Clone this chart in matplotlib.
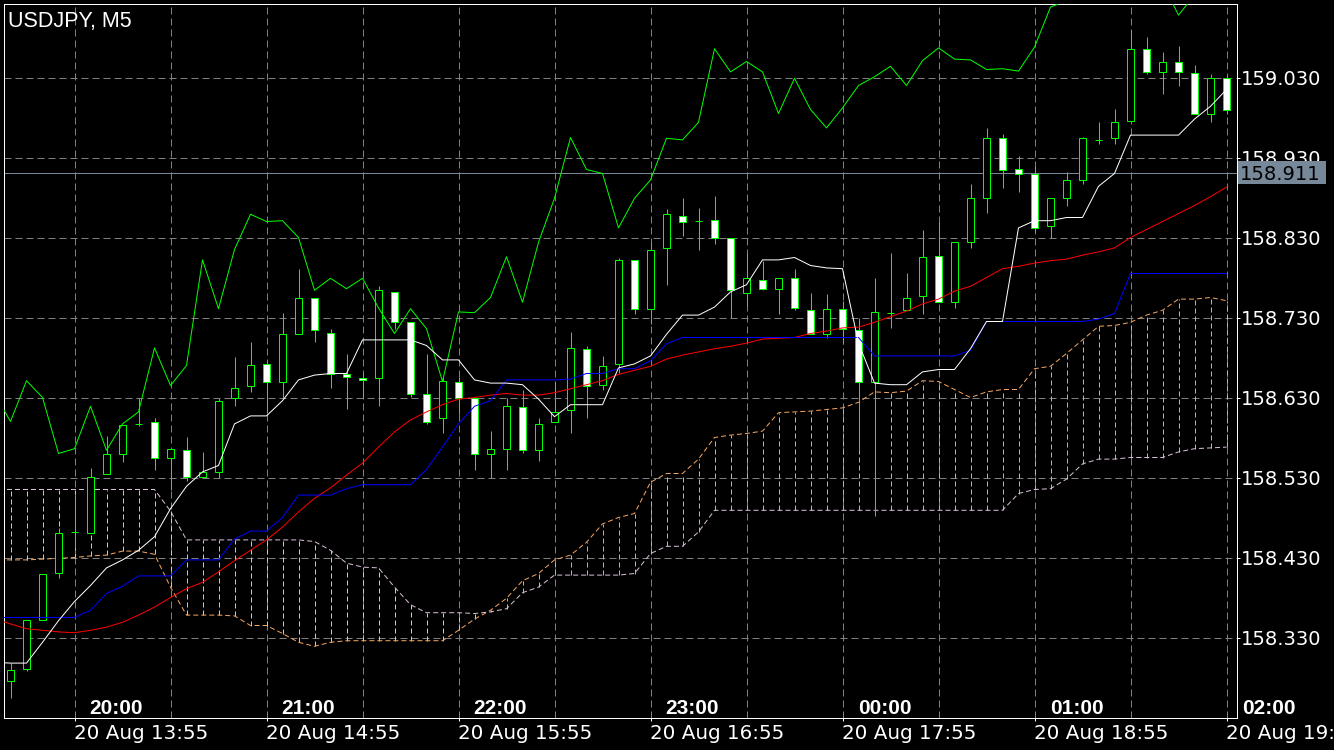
import numpy as np
import matplotlib
matplotlib.use("Agg")
import matplotlib.pyplot as plt
from matplotlib.transforms import blended_transform_factory
from matplotlib.patches import Rectangle

# ---------------- data (USDJPY M5) ----------------
symbol_title = "USDJPY, M5"
bid_price = 158.911

opens = [158.276, 158.291, 158.352, 158.411, 158.462, 158.461, 158.534, 158.560, 158.597, 158.600,
         158.554, 158.565, 158.531, 158.537, 158.629, 158.644, 158.672, 158.649, 158.710, 158.754,
         158.711, 158.660, 158.655, 158.655, 158.762, 158.724, 158.635, 158.605, 158.650, 158.630,
         158.560, 158.566, 158.618, 158.565, 158.599, 158.615, 158.691, 158.646, 158.672, 158.802,
         158.741, 158.817, 158.857, 158.851, 158.852, 158.830, 158.761, 158.777, 158.766, 158.780,
         158.740, 158.709, 158.741, 158.715, 158.649, 158.736, 158.739, 158.757, 158.807, 158.749,
         158.825, 158.879, 158.954, 158.916, 158.909, 158.844, 158.879, 158.902, 158.952, 158.954,
         158.976, 159.066, 159.037, 159.049, 159.036, 158.985, 159.029]
highs = [158.298, 158.352, 158.410, 158.467, 158.507, 158.542, 158.582, 158.596, 158.629, 158.604,
         158.566, 158.581, 158.562, 158.630, 158.681, 158.700, 158.676, 158.736, 158.791, 158.754,
         158.716, 158.684, 158.661, 158.769, 158.762, 158.724, 158.684, 158.656, 158.656, 158.630,
         158.588, 158.629, 158.639, 158.604, 158.650, 158.712, 158.695, 158.682, 158.804, 158.802,
         158.825, 158.866, 158.880, 158.867, 158.882, 158.830, 158.811, 158.801, 158.780, 158.791,
         158.761, 158.760, 158.751, 158.730, 158.780, 158.811, 158.786, 158.840, 158.849, 158.825,
         158.897, 158.967, 158.959, 158.932, 158.919, 158.880, 158.912, 158.956, 158.974, 158.991,
         159.089, 159.081, 159.062, 159.069, 159.046, 159.035, 159.032]
lows = [158.254, 158.288, 158.352, 158.405, 158.442, 158.461, 158.534, 158.549, 158.595, 158.539,
        158.514, 158.526, 158.531, 158.530, 158.619, 158.637, 158.611, 158.630, 158.709, 158.700,
        158.642, 158.616, 158.629, 158.619, 158.716, 158.631, 158.597, 158.586, 158.610, 158.539,
        158.529, 158.540, 158.561, 158.551, 158.599, 158.586, 158.604, 158.640, 158.661, 158.735,
        158.722, 158.771, 158.832, 158.814, 158.822, 158.730, 158.745, 158.764, 158.735, 158.739,
        158.710, 158.704, 158.697, 158.566, 158.482, 158.717, 158.739, 158.735, 158.749, 158.742,
        158.817, 158.861, 158.892, 158.887, 158.837, 158.830, 158.870, 158.897, 158.947, 158.947,
        158.976, 159.035, 159.010, 159.019, 158.985, 158.974, 158.985]
closes = [158.289, 158.352, 158.410, 158.461, 158.462, 158.531, 158.559, 158.596, 158.597, 158.554,
          158.566, 158.531, 158.537, 158.626, 158.642, 158.671, 158.650, 158.709, 158.755, 158.714,
          158.660, 158.656, 158.652, 158.765, 158.725, 158.635, 158.600, 158.651, 158.630, 158.560,
          158.566, 158.619, 158.564, 158.597, 158.612, 158.692, 158.645, 158.670, 158.802, 158.741,
          158.815, 158.859, 158.850, 158.851, 158.830, 158.764, 158.779, 158.766, 158.779, 158.742,
          158.710, 158.741, 158.716, 158.650, 158.737, 158.736, 158.755, 158.806, 158.749, 158.824,
          158.879, 158.955, 158.915, 158.910, 158.842, 158.879, 158.902, 158.954, 158.952, 158.974,
          159.066, 159.037, 159.050, 159.037, 158.985, 159.029, 158.990]

# indicator lines, first value belongs to the bar just left of the window
tenkan = [158.299, 158.298, 158.298, 158.324, 158.351, 158.375, 158.395, 158.417, 158.427, 158.439, 158.456,
          158.491, 158.519, 158.537, 158.545, 158.597, 158.607, 158.607, 158.626, 158.652, 158.658,
          158.660, 158.660, 158.702, 158.702, 158.702, 158.702, 158.695, 158.677, 158.677, 158.652,
          158.648, 158.648, 158.646, 158.628, 158.606, 158.621, 158.621, 158.621, 158.667, 158.672,
          158.682, 158.709, 158.733, 158.733, 158.743, 158.762, 158.771, 158.802, 158.802, 158.805,
          158.795, 158.792, 158.791, 158.698, 158.648, 158.646, 158.646, 158.662, 158.665, 158.665,
          158.691, 158.725, 158.725, 158.842, 158.851, 158.851, 158.855, 158.855, 158.894, 158.910,
          158.958, 158.958, 158.958, 158.958, 158.978, 158.994, 159.015]
kijun = [158.355, 158.355, 158.355, 158.355, 158.355, 158.355, 158.364, 158.385, 158.394, 158.407, 158.407,
         158.407, 158.427, 158.427, 158.427, 158.453, 158.463, 158.463, 158.480, 158.508, 158.508,
         158.508, 158.516, 158.521, 158.521, 158.521, 158.521, 158.540, 158.568, 158.597, 158.619,
         158.626, 158.652, 158.652, 158.652, 158.652, 158.653, 158.660, 158.660, 158.666, 158.666,
         158.676, 158.697, 158.705, 158.705, 158.705, 158.705, 158.705, 158.705, 158.705, 158.705,
         158.705, 158.705, 158.705, 158.705, 158.682, 158.682, 158.682, 158.682, 158.682, 158.682,
         158.689, 158.725, 158.725, 158.725, 158.725, 158.725, 158.725, 158.725, 158.728, 158.735,
         158.785, 158.785, 158.785, 158.785, 158.785, 158.785, 158.785]
ma_red = [158.353, 158.347, 158.341, 158.339, 158.337, 158.336, 158.339, 158.343, 158.349, 158.358, 158.368,
          158.380, 158.391, 158.399, 158.412, 158.426, 158.439, 158.452, 158.468, 158.487, 158.504,
          158.517, 158.533, 158.548, 158.568, 158.587, 158.602, 158.612, 158.621, 158.628, 158.630,
          158.633, 158.635, 158.633, 158.633, 158.636, 158.641, 158.646, 158.651, 158.659, 158.664,
          158.669, 158.678, 158.683, 158.687, 158.691, 158.694, 158.698, 158.703, 158.704, 158.705,
          158.710, 158.713, 158.717, 158.718, 158.724, 158.731, 158.738, 158.747, 158.753, 158.763,
          158.769, 158.780, 158.791, 158.794, 158.798, 158.801, 158.803, 158.808, 158.812, 158.817,
          158.830, 158.840, 158.850, 158.860, 158.870, 158.881, 158.893]
span_a = [158.427, 158.427, 158.427, 158.428, 158.429, 158.430, 158.432, 158.433, 158.438, 158.438, 158.434,
          158.393, 158.358, 158.358, 158.358, 158.357, 158.345, 158.345, 158.335, 158.324, 158.319,
          158.324, 158.326, 158.326, 158.326, 158.326, 158.326, 158.326, 158.326, 158.339, 158.353,
          158.364, 158.379, 158.401, 158.410, 158.427, 158.433, 158.449, 158.472, 158.480, 158.485,
          158.524, 158.535, 158.535, 158.553, 158.580, 158.583, 158.585, 158.588, 158.611, 158.612,
          158.613, 158.615, 158.617, 158.624, 158.637, 158.636, 158.638, 158.651, 158.650, 158.640,
          158.630, 158.637, 158.640, 158.640, 158.666, 158.669, 158.685, 158.702, 158.719, 158.720,
          158.724, 158.733, 158.739, 158.753, 158.753, 158.755, 158.751]
span_b = [158.515, 158.515, 158.515, 158.515, 158.515, 158.515, 158.515, 158.515, 158.515, 158.515, 158.515,
          158.488, 158.452, 158.452, 158.452, 158.452, 158.452, 158.452, 158.452, 158.452, 158.450,
          158.439, 158.423, 158.418, 158.417, 158.393, 158.371, 158.361, 158.361, 158.361, 158.360,
          158.362, 158.366, 158.386, 158.393, 158.408, 158.408, 158.408, 158.408, 158.408, 158.410,
          158.435, 158.444, 158.444, 158.462, 158.489, 158.489, 158.489, 158.489, 158.489, 158.489,
          158.489, 158.489, 158.489, 158.489, 158.489, 158.489, 158.489, 158.489, 158.489, 158.489,
          158.489, 158.489, 158.489, 158.510, 158.515, 158.516, 158.528, 158.547, 158.553, 158.553,
          158.555, 158.555, 158.555, 158.562, 158.566, 158.567, 158.568]
chikou = [158.635, 158.600, 158.651, 158.630, 158.560, 158.566, 158.619, 158.564, 158.597, 158.612, 158.692,
          158.645, 158.670, 158.802, 158.741, 158.815, 158.859, 158.850, 158.851, 158.830, 158.764,
          158.779, 158.766, 158.779, 158.742, 158.710, 158.741, 158.716, 158.650, 158.737, 158.736,
          158.755, 158.806, 158.749, 158.824, 158.879, 158.955, 158.915, 158.910, 158.842, 158.879,
          158.902, 158.954, 158.952, 158.974, 159.066, 159.037, 159.050, 159.037, 158.985, 159.029,
          158.990, 158.967, 158.992, 159.020, 159.031, 159.044, 159.020, 159.051, 159.067, 159.053,
          159.052, 159.040, 159.041, 159.038, 159.068, 159.118, 159.126, 159.145, 159.145, 159.145,
          159.145, 159.145, 159.148, 159.108, 159.133, 159.151, 159.151]

price_ticks = [158.330, 158.430, 158.530, 158.630, 158.730, 158.830, 158.930, 159.030]
time_tick_bars = [4, 16, 28, 40, 52, 64, 76]
hour_labels = ["20:00", "21:00", "22:00", "23:00", "00:00", "01:00", "02:00"]
date_labels = ["20 Aug 13:55", "20 Aug 14:55", "20 Aug 15:55", "20 Aug 16:55",
               "20 Aug 17:55", "20 Aug 18:55", "20 Aug 19:55"]
grid_bars_minor = [10, 22, 34, 46, 58, 70]

# ---------------- styling ----------------
W, H = 1334, 750
PX = 72 / 100.0            # one pixel in points
GREEN = "#00ff00"
SANDY = "#f4a460"
THISTLE = "#d8bfd8"
SLATE = "#778899"
GRID = "#808080"
DASH = (0, (5, 3))

fig = plt.figure(figsize=(W / 100, H / 100), dpi=100, facecolor="black")
ax = fig.add_axes([4 / W, 32 / H, 1233 / W, 714 / H], facecolor="black")
# 16 px per bar, bar centres on pixel centres
x_left = -6.5 / 16
ax.set_xlim(x_left, x_left + 1233 / 16)
half = 0.5 / 800
ax.set_ylim(158.22875 + half, 159.12125 + half)

for s in ax.spines.values():
    s.set_color("white")
    s.set_linewidth(PX)

# axes / ticks
ax.yaxis.tick_right()
ax.set_yticks(price_ticks)
ax.set_yticklabels([f"{v:.3f}" for v in price_ticks])
ax.tick_params(axis="y", direction="out", length=3 * PX, width=PX, color="white",
               labelcolor="white", labelsize=14, pad=0.3)
ax.set_xticks(time_tick_bars)
ax.set_xticklabels(date_labels, ha="left")
ax.set_xticks(grid_bars_minor, minor=True)
ax.tick_params(axis="x", which="major", direction="out", length=3 * PX, width=PX, color="white",
               labelcolor="white", labelsize=14.3, pad=2.4)
ax.tick_params(axis="x", which="minor", length=0)
for lbl in ax.get_xticklabels() + ax.get_yticklabels():
    lbl.set_fontfamily("DejaVu Sans")

ax.set_axisbelow(True)
ax.grid(True, which="both", axis="x", color=GRID, linewidth=PX, linestyle=(0, (7, 4)))
ax.grid(True, which="major", axis="y", color=GRID, linewidth=PX, linestyle=(0, (7, 4)))

# bid line
ax.axhline(bid_price, color=SLATE, linewidth=PX, zorder=1.2)

# cloud
xl = np.arange(-1, len(tenkan) - 1)
sa = np.array(span_a)
sb = np.array(span_b)
up = sa >= sb
ax.vlines(xl[up], sb[up], sa[up], colors=SANDY, linewidth=PX, linestyles=[DASH], zorder=1)
ax.vlines(xl[~up], sa[~up], sb[~up], colors=THISTLE, linewidth=PX, linestyles=[DASH], zorder=1)
ax.plot(xl, sa, color=SANDY, linewidth=PX, linestyle=DASH, zorder=1.1)
ax.plot(xl, sb, color=THISTLE, linewidth=PX, linestyle=DASH, zorder=1.1)

# candles
o = np.array(opens); h = np.array(highs); l = np.array(lows); c = np.array(closes)
xc = np.arange(len(o))
ax.vlines(xc, l, h, colors=GREEN, linewidth=PX, zorder=2)
faces = ["white" if cc < oo else "black" for oo, cc in zip(o, c)]
ax.bar(xc, np.abs(c - o), bottom=np.minimum(o, c), width=0.47, color=faces,
       edgecolor=GREEN, linewidth=PX, zorder=3)

# indicator lines
ax.plot(xl, chikou, color=GREEN, linewidth=PX, zorder=4)
ax.plot(xl, ma_red, color="#ff0000", linewidth=PX, zorder=4)
ax.plot(xl, kijun, color="#0000ff", linewidth=PX, zorder=4)
ax.plot(xl, tenkan, color="white", linewidth=PX, zorder=4.1)

# hour labels inside the chart
for bar, lab in zip(time_tick_bars, hour_labels):
    ax.annotate(lab, xy=(bar, 0), xycoords=("data", "axes fraction"),
                xytext=(42 * PX, 10 * PX), textcoords="offset points",
                ha="center", va="center", color="white", fontsize=15,
                fontweight="bold", family="Liberation Sans", annotation_clip=False)

# current price box
trans = blended_transform_factory(ax.transAxes, ax.transData)
ax.add_patch(Rectangle((1.0005, bid_price - 11.7 / 800), 88 / 1233, 23.4 / 800,
                       transform=trans, facecolor=SLATE, edgecolor="none",
                       clip_on=False, zorder=10))
ax.text(1.0 + 3.2 / 1233, bid_price, f"{bid_price:.3f}", transform=trans,
        ha="left", va="center_baseline", color="black", fontsize=14,
        family="DejaVu Sans", zorder=11, clip_on=False)

# title
ax.text(4.3 / 1233, 1 - 17 / 714, symbol_title, transform=ax.transAxes,
        ha="left", va="center", color="white", fontsize=15.5, family="Liberation Sans", zorder=12)

fig.savefig("out.png", dpi=100, facecolor="black")
